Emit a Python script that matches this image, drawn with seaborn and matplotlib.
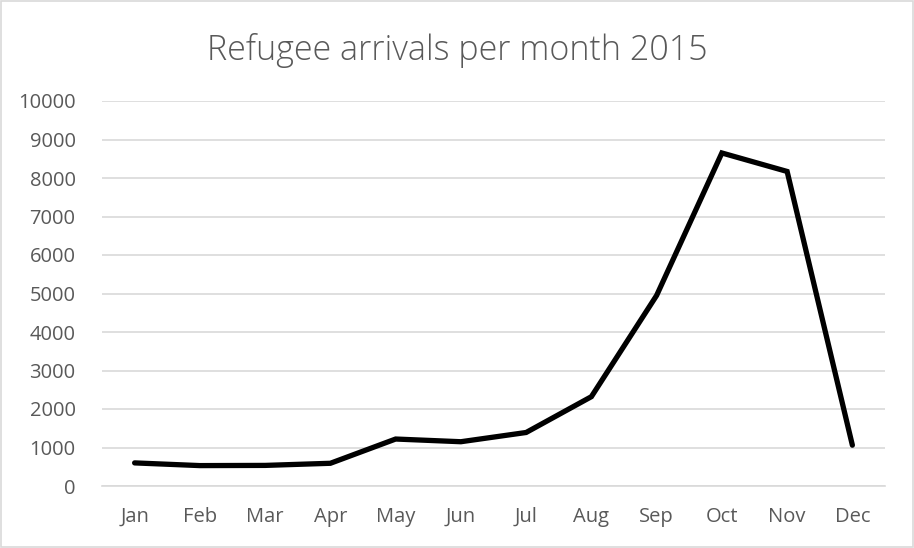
import matplotlib
matplotlib.use("Agg")
import matplotlib.pyplot as plt
import seaborn as sns
import pandas as pd

months = ["Jan", "Feb", "Mar", "Apr", "May", "Jun", "Jul", "Aug", "Sep", "Oct", "Nov", "Dec"]
arrivals = [600, 530, 535, 590, 1220, 1150, 1390, 2320, 4950, 8650, 8170, 1060]
yticks = [0, 1000, 2000, 3000, 4000, 5000, 6000, 7000, 8000, 9000, 10000]

sns.set_theme(style="white")
plt.rcParams['font.family'] = ['Open Sans', 'DejaVu Sans']

df = pd.DataFrame({"month": months, "arrivals": arrivals})
df["x"] = range(len(months))

fig = plt.figure(figsize=(9.14, 5.48), dpi=100)
ax = fig.add_axes([102/914, 1-486/548, (885-102)/914, (486-101)/548])

sns.lineplot(data=df, x="x", y="arrivals", ax=ax, color="black", linewidth=3.8,
             solid_joinstyle="miter", solid_capstyle="round", zorder=3)

ax.set_xlim(-0.5, len(months) - 0.5)
ax.set_ylim(0, 10000)
ax.set_yticks(yticks)
ax.set_yticklabels([str(t) for t in yticks])
ax.set_xticks(range(len(months)))
ax.set_xticklabels(months)
ax.set_xlabel("")
ax.set_ylabel("")
ax.yaxis.grid(True, color="#d9d9d9", linewidth=1.2)
ax.xaxis.grid(False)
for s in ["top", "right", "left"]:
    ax.spines[s].set_visible(False)
ax.spines["bottom"].set_color("#d9d9d9")
ax.spines["bottom"].set_linewidth(1.2)
ax.tick_params(axis="both", length=0, labelsize=14.5, colors="#595959")
ax.tick_params(axis="y", pad=19)
ax.tick_params(axis="x", pad=15)

fig.text(0.5, 1-50/548, "Refugee arrivals per month 2015", ha="center", va="center",
         fontsize=24.5, color="#595959", fontweight="light")

fig.patches.append(plt.Rectangle((0.001, 0.001), 0.998, 0.998, transform=fig.transFigure,
                                 fill=False, edgecolor="#d9d9d9", linewidth=1.2))

fig.savefig("out.png", dpi=100)
